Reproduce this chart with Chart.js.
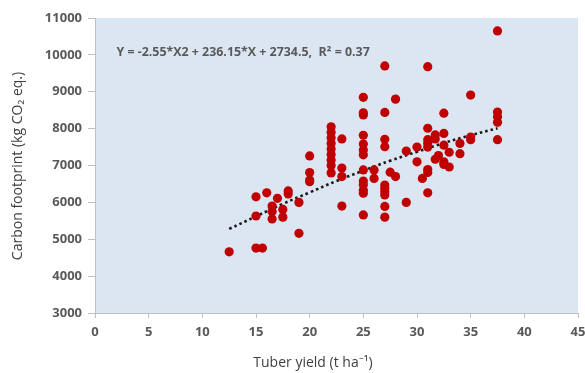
<!DOCTYPE html>
<html>
<head>
<meta charset="utf-8">
<script src="https://cdn.jsdelivr.net/npm/chart.js@4.4.1/dist/chart.umd.min.js"></script>
<style>
  html, body { margin: 0; padding: 0; background: #ffffff; overflow: hidden; }
  #wrap { width: 600px; height: 373px; }
</style>
</head>
<body>
<div id="wrap"><canvas id="chart" width="600" height="373"></canvas></div>
<script>
// Observed points: tuber yield (t/ha) and carbon footprint (kg CO2 eq.)
const yieldX = [
  12.5,
  15, 15, 15, 15.6,
  16, 16.5, 16.5, 16.5,
  17, 17.5, 17.5,
  18, 18, 19, 19,
  20, 20, 20, 20,
  22, 22, 22, 22, 22, 22, 22, 22, 22,
  23, 23, 23, 23,
  25, 25, 25, 25, 25, 25, 25, 25, 25, 25, 25, 25, 25,
  26, 26,
  27, 27, 27, 27, 27, 27, 27, 27, 27, 27,
  27.5, 28, 28,
  29, 29, 30, 30, 30.5,
  31, 31, 31, 31, 31, 31, 31, 31,
  31.7, 31.7, 31.7, 32,
  32.5, 32.5, 32.5, 32.5, 32.5,
  33, 33, 34, 34,
  35, 35, 35,
  37.5, 37.5, 37.5, 37.5, 37.5
];
const footprintY = [
  4660,
  6150, 5630, 4760, 4760,
  6260, 5900, 5750, 5550,
  6110, 5810, 5600,
  6310, 6230, 6000, 5160,
  7260, 6810, 6610, 6560,
  8050, 7900, 7750, 7600, 7450, 7300, 7150, 7000, 6800,
  7720, 6930, 6700, 5900,
  8850, 8430, 8370, 7820, 7580, 7420, 7290, 6880, 6580, 6480, 6330, 6250, 5660,
  6880, 6650,
  9700, 8440, 7710, 7510, 6470, 6380, 6290, 6200, 5890, 5600,
  6820, 8800, 6700,
  7390, 6000, 7500, 7100, 6650,
  9680, 8010, 7700, 7600, 7500, 6890, 6810, 6260,
  7830, 7720, 7170, 7270,
  8420, 7870, 7550, 7100, 7030,
  7360, 6960, 7600, 7320,
  8910, 7770, 7700,
  10650, 8450, 8320, 8170, 7700
];

// Dotted polynomial trend line
const trendX = [12.5, 15, 17.5, 20, 22.5, 25, 27.5, 30, 32.5, 35, 37.5];
const trendY = [5280, 5620, 5960, 6270, 6580, 6860, 7130, 7370, 7610, 7820, 8010];

const xTicks = [0, 5, 10, 15, 20, 25, 30, 35, 40, 45];
const yTicks = [3000, 4000, 5000, 6000, 7000, 8000, 9000, 10000, 11000];

const equationText = 'Y = -2.55*X2 + 236.15*X + 2734.5,  R\u00B2 = 0.37';
const equationAt = { x: 2.0, y: 10060 };
const xTitle = 'Tuber yield (t ha\u207B\u00B9)';
const yTitle = 'Carbon footprint (kg CO\u2082 eq.)';

const FONT = '"Open Sans", "Liberation Sans", sans-serif';
const TICK_COLOR = '#595959';
const AXIS_COLOR = '#bfbfbf';

// pale blue plot area + free text (equation, axis titles)
const decorations = {
  id: 'decorations',
  beforeDraw(chart) {
    const { ctx, chartArea: a } = chart;
    ctx.save();
    ctx.fillStyle = '#dce6f2';
    ctx.fillRect(a.left, a.top, a.right - a.left, a.bottom - a.top);
    ctx.restore();
  },
  afterDraw(chart) {
    const { ctx, scales } = chart;
    ctx.save();
    ctx.fillStyle = '#595959';
    ctx.font = '700 12.4px ' + FONT;
    ctx.textBaseline = 'middle';
    ctx.textAlign = 'left';
    ctx.fillText(equationText, scales.x.getPixelForValue(equationAt.x), scales.y.getPixelForValue(equationAt.y));

    ctx.fillStyle = '#404040';
    ctx.font = '14px ' + FONT;
    ctx.textAlign = 'center';
    ctx.fillText(xTitle, 313, 363);

    ctx.translate(18, 166);
    ctx.rotate(-Math.PI / 2);
    ctx.fillText(yTitle, 0, 0);
    ctx.restore();
  }
};

new Chart(document.getElementById('chart'), {
  type: 'scatter',
  data: {
    datasets: [
      {
        label: 'Observed',
        data: yieldX.map((x, i) => ({ x: x, y: footprintY[i] })),
        backgroundColor: '#c00000',
        borderColor: '#c00000',
        pointRadius: 4.6,
        pointHoverRadius: 4.6,
        borderWidth: 0
      },
      {
        label: 'Trend',
        data: trendX.map((x, i) => ({ x: x, y: trendY[i] })),
        showLine: true,
        borderColor: '#1a1a1a',
        borderWidth: 2.6,
        borderDash: [2.6, 3],
        tension: 0.4,
        pointRadius: 0,
        fill: false
      }
    ]
  },
  options: {
    responsive: false,
    animation: false,
    layout: { padding: { left: 0, top: 18, right: 22, bottom: 0 } },
    plugins: {
      legend: { display: false },
      tooltip: { enabled: false }
    },
    scales: {
      x: {
        type: 'linear',
        min: 0,
        max: 45,
        afterBuildTicks: (s) => { s.ticks = xTicks.map(v => ({ value: v })); },
        afterFit: (s) => { s.height = 60; },
        grid: { display: true, drawOnChartArea: false, drawTicks: true, tickLength: 5, color: AXIS_COLOR },
        border: { display: true, color: AXIS_COLOR, width: 1 },
        ticks: { color: TICK_COLOR, padding: 6, callback: (v) => String(v), font: { family: FONT, size: 13, weight: '700' } }
      },
      y: {
        type: 'linear',
        min: 3000,
        max: 11000,
        afterBuildTicks: (s) => { s.ticks = yTicks.map(v => ({ value: v })); },
        afterFit: (s) => { s.width = 95; },
        grid: { display: true, drawOnChartArea: false, drawTicks: true, tickLength: 7, color: AXIS_COLOR },
        border: { display: true, color: AXIS_COLOR, width: 1 },
        ticks: { color: TICK_COLOR, padding: 6, callback: (v) => String(v), font: { family: FONT, size: 13, weight: '700' } }
      }
    }
  },
  plugins: [decorations]
});
</script>
</body>
</html>
